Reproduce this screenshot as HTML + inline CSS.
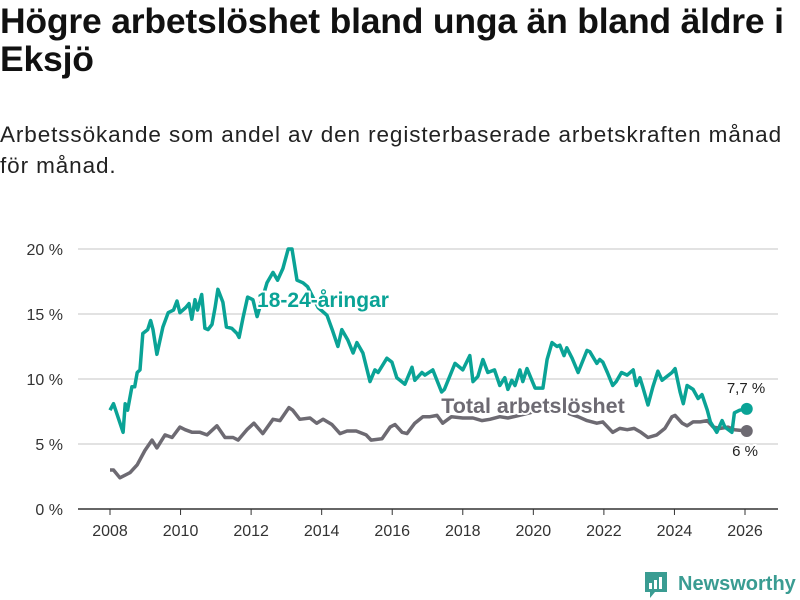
<!DOCTYPE html>
<html><head><meta charset="utf-8">
<style>
body{margin:0;width:800px;height:600px;background:#fff;font-family:"Liberation Sans",sans-serif;color:#111;overflow:hidden;position:relative}
h1{position:absolute;left:0;top:2px;margin:0;font-size:35.5px;line-height:38px;font-weight:bold;width:820px;letter-spacing:-0.2px;white-space:nowrap}
.sub{position:absolute;left:0;top:119px;margin:0;font-size:22.5px;line-height:31px;width:820px;color:#222;white-space:nowrap;letter-spacing:0.9px}
svg{position:absolute;left:0;top:0}
</style></head><body>
<h1>Högre arbetslöshet bland unga än bland äldre i<br>Eksjö</h1>
<p class="sub">Arbetssökande som andel av den registerbaserade arbetskraften månad<br>för månad.</p>
<svg id="chart" width="800" height="600"></svg>
<script>
const yTicks=[0,5,10,15,20];
const yTickLabels=["0 %","5 %","10 %","15 %","20 %"];
const xTicks=[2008,2010,2012,2014,2016,2018,2020,2022,2024,2026];
const youthYears=[2008.0,2008.1,2008.37,2008.43,2008.5,2008.62,2008.7,2008.77,2008.85,2008.93,2009.07,2009.15,2009.22,2009.33,2009.5,2009.65,2009.8,2009.9,2009.98,2010.15,2010.24,2010.32,2010.41,2010.48,2010.6,2010.69,2010.78,2010.89,2010.98,2011.06,2011.2,2011.3,2011.45,2011.6,2011.66,2011.77,2011.9,2012.05,2012.17,2012.45,2012.62,2012.75,2012.9,2013.05,2013.16,2013.3,2013.47,2013.6,2013.9,2014.15,2014.3,2014.46,2014.57,2014.74,2014.89,2015.0,2015.17,2015.37,2015.51,2015.6,2015.85,2015.99,2016.13,2016.36,2016.56,2016.64,2016.84,2016.93,2017.15,2017.4,2017.48,2017.78,2018.0,2018.2,2018.29,2018.43,2018.57,2018.71,2018.9,2019.05,2019.19,2019.28,2019.39,2019.48,2019.62,2019.7,2019.82,2020.05,2020.27,2020.39,2020.53,2020.67,2020.75,2020.87,2020.95,2021.1,2021.27,2021.52,2021.6,2021.8,2021.88,2021.97,2022.1,2022.25,2022.35,2022.5,2022.66,2022.83,2022.92,2023.02,2023.1,2023.25,2023.39,2023.53,2023.65,2023.79,2023.93,2024.02,2024.16,2024.25,2024.36,2024.53,2024.67,2024.78,2024.93,2025.02,2025.2,2025.35,2025.43,2025.63,2025.7,2025.85,2026.05];
const youthValues=[7.6,8.1,5.9,8.1,7.6,9.4,9.4,10.5,10.7,13.5,13.8,14.5,13.8,11.9,14.0,15.1,15.3,16.0,15.1,15.5,15.8,14.6,16.1,15.3,16.5,13.9,13.8,14.2,15.5,16.9,15.9,14.0,13.9,13.5,13.2,14.7,16.3,16.1,14.8,17.4,18.2,17.6,18.5,20.0,20.0,17.6,17.4,17.1,15.5,14.9,13.8,12.5,13.8,13.0,12.0,12.8,12.0,9.8,10.7,10.5,11.6,11.3,10.1,9.6,10.9,9.9,10.5,10.3,10.7,9.0,9.2,11.2,10.7,11.8,9.8,10.2,11.5,10.5,10.7,9.5,10.1,9.2,9.9,9.5,10.7,9.8,10.8,9.3,9.3,11.5,12.8,12.5,12.6,11.8,12.4,11.6,10.5,12.2,12.1,11.2,11.5,11.3,10.5,9.5,9.8,10.5,10.3,10.7,9.5,10.1,9.4,8.0,9.4,10.6,9.9,10.2,10.5,10.8,9.0,8.1,9.5,9.2,8.5,8.8,7.6,6.7,5.9,6.8,6.3,5.9,7.4,7.6,7.7];
const totalYears=[2008.0,2008.1,2008.28,2008.57,2008.77,2008.99,2009.19,2009.33,2009.56,2009.76,2009.98,2010.13,2010.33,2010.55,2010.75,2011.03,2011.26,2011.49,2011.63,2011.88,2012.08,2012.33,2012.62,2012.82,2013.07,2013.18,2013.38,2013.67,2013.86,2014.04,2014.29,2014.52,2014.72,2014.98,2015.26,2015.4,2015.71,2015.94,2016.08,2016.28,2016.42,2016.64,2016.87,2017.07,2017.27,2017.43,2017.68,2018.0,2018.29,2018.54,2018.77,2019.05,2019.28,2019.6,2019.9,2020.2,2020.5,2020.8,2021.05,2021.27,2021.52,2021.8,2021.97,2022.25,2022.45,2022.66,2022.86,2023.05,2023.25,2023.5,2023.73,2023.93,2024.02,2024.22,2024.36,2024.53,2024.73,2024.93,2025.1,2025.3,2025.52,2025.7,2026.05];
const totalValues=[3.0,3.0,2.4,2.8,3.4,4.5,5.3,4.7,5.7,5.5,6.3,6.1,5.9,5.9,5.7,6.4,5.5,5.5,5.3,6.1,6.6,5.8,6.9,6.8,7.8,7.6,6.9,7.0,6.6,6.9,6.5,5.8,6.0,6.0,5.7,5.3,5.4,6.3,6.5,5.9,5.8,6.6,7.1,7.1,7.2,6.6,7.1,7.0,7.0,6.8,6.9,7.1,7.0,7.2,7.4,7.7,7.8,7.6,7.3,7.1,6.8,6.6,6.7,5.9,6.2,6.1,6.2,5.9,5.5,5.7,6.2,7.1,7.2,6.6,6.4,6.7,6.7,6.8,6.3,6.2,6.3,6.1,6.0];

const NS="http://www.w3.org/2000/svg";
const svg=document.getElementById('chart');
const x=v=>110+(v-2008)*(635/18);
const y=v=>509-v*13;
function mk(t,a,p){const e=document.createElementNS(NS,t);for(const k in a)e.setAttribute(k,a[k]);(p||svg).appendChild(e);return e;}

yTicks.forEach((t,i)=>{
  const g=mk('line',{x1:78,x2:778,y1:y(t),y2:y(t),stroke:t===0?'#333':'#d9d9d9','stroke-width':1.5});
  
  
  const l=mk('text',{x:63,y:y(t)+6,'text-anchor':'end','font-size':16,fill:'#333'});
  l.textContent=yTickLabels[i];
  
  
});
xTicks.forEach(t=>{
  const tk=mk('line',{x1:x(t),x2:x(t),y1:509,y2:515,stroke:'#333','stroke-width':1});
  
  
  const l=mk('text',{x:x(t),y:536,'text-anchor':'middle','font-size':16,fill:'#333'});
  l.textContent=t;
  
  
});
function line(xs,vs,c,name){
  const d=xs.map((v,i)=>(i?'L':'M')+x(v).toFixed(1)+','+y(vs[i]).toFixed(1)).join('');
  const p=mk('path',{d:d,fill:'none',stroke:c,'stroke-width':3.5,'stroke-linejoin':'round'});
  
  
  const n=xs.length-1;
  const dot=mk('circle',{cx:x(xs[n]),cy:y(vs[n]),r:6,fill:c});
  
  
}
line(totalYears,totalValues,'#6d6a72','total-line');
line(youthYears,youthValues,'#0aa396','youth-line');
function lbl(t,xx,yy,c,size,w,anchor,name){
  const e=mk('text',{x:xx,y:yy,'text-anchor':anchor,'font-size':size,'font-weight':w,fill:c,stroke:'#fff','stroke-width':4,'paint-order':'stroke','stroke-linejoin':'round'});
  e.textContent=t;
  
  
}
lbl('18-24-åringar',323,307,'#0aa396',21,'bold','middle','youth-series-label');
lbl('Total arbetslöshet',533,413,'#6d6a72',21.5,'bold','middle','total-series-label');
lbl('7,7 %',746,393,'#222',15,'normal','middle','youth-end-label');
lbl('6 %',745,456,'#222',15,'normal','middle','total-end-label');

const lg=mk('g',{});


mk('path',{d:'M645,572 h22 v20 h-12 l-5,6 v-6 h-5 z',fill:'#3a9c92'},lg);
mk('rect',{x:649,y:583,width:3,height:6,fill:'#fff'},lg);
mk('rect',{x:654,y:580,width:3,height:9,fill:'#fff'},lg);
mk('rect',{x:659,y:577,width:3,height:12,fill:'#fff'},lg);
const lt=mk('text',{x:678,y:590,'font-size':20,'font-weight':'bold',fill:'#3a9c92'},lg);
lt.textContent='Newsworthy';
</script>
</body></html>
